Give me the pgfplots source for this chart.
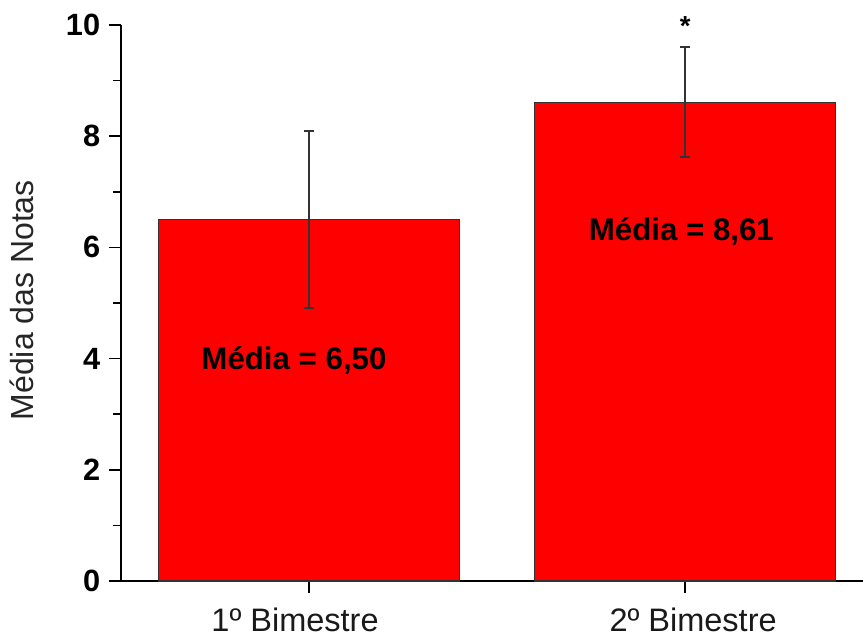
\documentclass[border=0pt]{standalone}
\usepackage{fontspec}
\setmainfont{Liberation Sans}
\usepackage{pgfplots}
\pgfplotsset{compat=1.18}
\begin{document}
\begin{tikzpicture}
\useasboundingbox (-48.4pt,-22.4pt) rectangle (296.8pt,232.4pt);
\begin{axis}[
  at={(0,0)}, anchor=south west,
  scale only axis, width=296.8pt, height=222.4pt,
  xmin=0.5, xmax=2.473, ymin=0, ymax=10,
  clip=false,
  axis x line*=bottom, axis y line*=left,
  axis line style={-, line width=0.6pt, black},
  xtick={1,2}, xticklabels={\hspace*{-11.2pt}1º Bimestre, \hspace*{6.4pt}2º Bimestre},
  ytick={0,2,4,6,8,10}, minor ytick={1,3,5,7,9},
  tick align=outside, major tick length=4.8pt, minor tick length=3.2pt,
  tick style={black, line width=0.6pt},
  /pgf/number format/assume math mode=true,
  yticklabel style={font=\fontsize{12.3}{14}\selectfont\bfseries},
  xticklabel style={font=\fontsize{13}{15}\selectfont, text=black!90, yshift=-2.5pt},
  ylabel={Média das Notas},
  every axis y label/.style={at={(axis description cs:0,0.505)}, rotate=90, anchor=center, yshift=39.6pt, font=\fontsize{12.8}{15}\selectfont, text=black!85},
]
\addplot[ybar, bar width=0.8, fill=red, draw=black!80, line width=0.5pt,
  error bars/.cd, y dir=both, y explicit,
  error bar style={line width=0.8pt, black!80},
  error mark options={rotate=90, mark size=2pt, line width=0.8pt, black!80}]
  table[x=x, y=y, y error=e] {
  x y e
  1 6.50 1.59
  2 8.61 0.99
};
\node[font=\fontsize{12.5}{14}\selectfont\bfseries] at (axis cs:0.96,3.97) {Média = 6,50};
\node[font=\fontsize{12.5}{14}\selectfont\bfseries] at (axis cs:1.99,6.28) {Média = 8,61};
\node[font=\fontsize{11}{13}\selectfont\bfseries] at (axis cs:2,9.98) {*};
\end{axis}
\end{tikzpicture}
\end{document}
